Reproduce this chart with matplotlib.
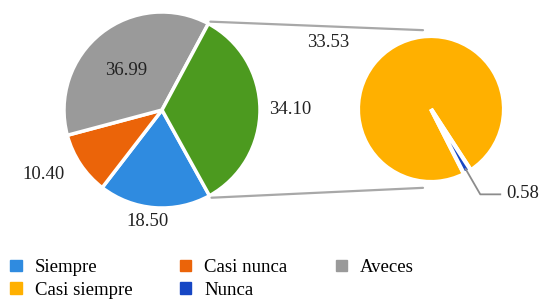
import numpy as np
import matplotlib
matplotlib.use("Agg")
import matplotlib.pyplot as plt
from matplotlib.patches import Patch

plt.rcParams['font.family'] = ['Liberation Serif', 'DejaVu Serif']

# datos
principal = ["Siempre", "Casi nunca", "Aveces", "Otros"]
valores_principal = [18.50, 10.40, 36.99, 34.10]
secundario = ["Casi siempre", "Nunca"]
valores_secundario = [33.53, 0.58]

c_principal = ["#2F8BE0", "#EB6409", "#9A9A9A", "#4C9A1F"]
c_secundario = ["#FFB000", "#1646C4"]

W, H = 551, 302
fig = plt.figure(figsize=(W / 100, H / 100), dpi=100)
ax = fig.add_axes([0, 0, 1, 1])

# pastel principal
c1, r1 = (162, 192), 98
w1, _ = ax.pie(valores_principal, colors=c_principal, startangle=-61, counterclock=False,
               center=c1, radius=r1, frame=True,
               wedgeprops=dict(edgecolor='white', linewidth=2.5))

# etiquetas (distancia relativa, giro en grados)
pos1 = [(1.15, -3), (1.38, -5), (0.55, 4), (1.31, 0)]
for w, v, (d, g) in zip(w1, valores_principal, pos1):
    a = np.deg2rad((w.theta1 + w.theta2) / 2 + g)
    ax.text(c1[0] + d * r1 * np.cos(a), c1[1] + d * r1 * np.sin(a), "%.2f" % v,
            ha='center', va='center', fontsize=13.5, color='#222222')

# pastel secundario
c2, r2 = (431, 193), 73
frac_n = valores_secundario[1] / sum(valores_secundario) * 360
w2, _ = ax.pie(valores_secundario, colors=c_secundario, startangle=-60 - frac_n / 2 - (360 - frac_n),
               center=c2, radius=r2, frame=True,
               wedgeprops=dict(edgecolor='white', linewidth=3))

ax.set_xlim(0, W)
ax.set_ylim(0, H)
ax.set_aspect('equal')
ax.axis('off')

# lineas de union
verde = w1[3]
for th, s in [(verde.theta1, -1), (verde.theta2, 1)]:
    a = np.deg2rad(th)
    x0, y0 = c1[0] + r1 * np.cos(a), c1[1] + r1 * np.sin(a)
    ax.plot([x0 + 2, c2[0] - 8], [y0 + s * 2, c2[1] + s * 1.08 * r2],
            color='#A8A8A8', lw=1.6, solid_capstyle='round')

# etiqueta 33.53
a = np.deg2rad((w2[0].theta1 + w2[0].theta2) / 2 + 27)
ax.text(c2[0] + 1.68 * r2 * np.cos(a), c2[1] + 1.68 * r2 * np.sin(a), "%.2f" % valores_secundario[0],
        ha='center', va='center', fontsize=13.5, color='#222222')

# etiqueta 0.58 con guia
a = np.deg2rad((w2[1].theta1 + w2[1].theta2) / 2)
xa, ya = c2[0] + 0.95 * r2 * np.cos(a), c2[1] + 0.95 * r2 * np.sin(a)
xb, yb = c2[0] + 1.35 * r2 * np.cos(a), c2[1] + 1.35 * r2 * np.sin(a)
ax.plot([xa, xb, xb + 20], [ya, yb, yb], color='#8C8C8C', lw=1.3)
ax.text(xb + 26, yb + 1, "%.2f" % valores_secundario[1], ha='left', va='center',
        fontsize=13.5, color='#222222')

# leyenda
h = {principal[i]: Patch(color=c_principal[i]) for i in range(3)}
h.update({secundario[i]: Patch(color=c_secundario[i]) for i in range(2)})
orden = ["Siempre", "Casi siempre", "Casi nunca", "Nunca", "Aveces"]
fig.legend([h[k] for k in orden], orden, loc='lower left', bbox_to_anchor=(-0.012, -0.045),
           ncol=3, frameon=False, fontsize=13.5, handlelength=0.6, handleheight=0.6,
           handletextpad=0.7, columnspacing=2.55, labelspacing=0.3)

fig.savefig("out.png", dpi=100)
